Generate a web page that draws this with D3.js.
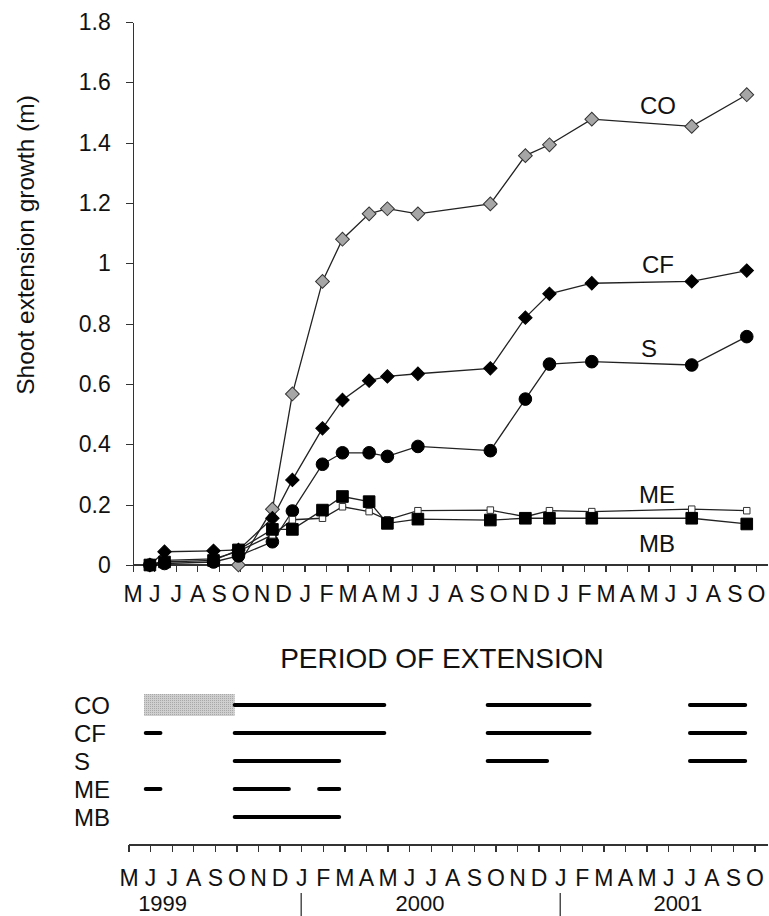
<!DOCTYPE html>
<meta charset="utf-8">
<title>Shoot extension growth</title>
<style>
  body { margin: 0; background: #fff; }
  svg { display: block; font-family: "Liberation Sans", Arial, sans-serif; }
  .axis path, .axis line { stroke: #333; stroke-width: 1.3px; shape-rendering: crispEdges; }
  .axis text { font-size: 23px; fill: #111; font-family: "Liberation Sans", Arial, sans-serif; }
  .series { fill: none; stroke: #222; stroke-width: 1.3px; }
  .lbl { font-size: 24px; fill: #111; }
  .period { stroke: #000; stroke-width: 4px; stroke-linecap: round; }
</style>
<svg width="769" height="916"></svg>
<script src="https://d3js.org/d3.v7.min.js"></script>
<script>
  // months from May 1999 (0) to Oct 2001 (29)
  var monthLabels = ["M","J","J","A","S","O","N","D","J","F","M","A","M","J","J","A","S","O","N","D","J","F","M","A","M","J","J","A","S","O"];
  var yTicks = [0, 0.2, 0.4, 0.6, 0.8, 1, 1.2, 1.4, 1.6, 1.8];

  // sampling dates, in months since 1 May 1999
  var sampleMonths = [0.8, 1.48, 3.76, 4.92, 6.5, 7.43, 8.83, 9.76, 11.0, 11.85, 13.27, 16.64, 18.27, 19.39, 21.36, 26.01, 28.57];

  var CO = [null, null, null, 0, 0.185, 0.567, 0.94, 1.08, 1.164, 1.181, 1.164, 1.197, 1.357, 1.393, 1.478, 1.454, 1.559];
  var CF = [0, 0.044, 0.047, 0.05, 0.155, 0.282, 0.453, 0.547, 0.611, 0.625, 0.634, 0.652, 0.82, 0.899, 0.934, 0.94, 0.976];
  var S  = [0, 0.005, 0.01, 0.03, 0.077, 0.179, 0.334, 0.372, 0.372, 0.36, 0.393, 0.379, 0.55, 0.666, 0.674, 0.663, 0.757];
  var ME = [0, 0.015, 0.02, 0.045, 0.10, 0.15, 0.155, 0.193, 0.177, 0.15, 0.18, 0.182, 0.16, 0.18, 0.177, 0.185, 0.18];
  var MB = [0, 0.01, 0.015, 0.05, 0.118, 0.118, 0.182, 0.227, 0.21, 0.138, 0.152, 0.149, 0.155, 0.155, 0.155, 0.155, 0.136];

  // periods of extension [start, end] in months since 1 May 1999
  var rows = ["CO", "CF", "S", "ME", "MB"];
  var periods = {
    CO: [[4.92, 11.85], [16.64, 21.36], [26.01, 28.57]],
    CF: [[0.8, 1.48], [4.92, 11.85], [16.64, 21.36], [26.01, 28.57]],
    S:  [[4.92, 9.76], [16.64, 19.39], [26.01, 28.57]],
    ME: [[0.8, 1.48], [4.92, 7.43], [8.83, 9.76]],
    MB: [[4.92, 9.76]]
  };
  var noData = { row: "CO", span: [0.72, 4.92] };
  var years = [{ label: "1999", at: 1.58 }, { label: "2000", at: 13.5 }, { label: "2001", at: 25.45 }];
  var yearBreaks = [8, 20];

  var svg = d3.select("svg");

  // stippled grey for the CO no-data block
  var pat = svg.append("defs").append("pattern")
    .attr("id", "stipple")
    .attr("width", 2).attr("height", 2)
    .attr("patternUnits", "userSpaceOnUse");
  pat.append("rect").attr("width", 2).attr("height", 2).attr("fill", "#cfcfcf");
  pat.append("rect").attr("width", 1).attr("height", 1).attr("fill", "#a8a8a8");

  // ---------- growth chart ----------
  var x = d3.scaleLinear().domain([0, 29]).range([132.7, 756]);
  var y = d3.scaleLinear().domain([0, 1.8]).range([565, 22]);

  svg.append("g")
    .attr("class", "axis")
    .attr("transform", "translate(" + x(0) + ",0)")
    .call(d3.axisLeft(y).tickValues(yTicks).tickSize(7).tickSizeOuter(0).tickPadding(15)
      .tickFormat(d3.format("~g")));

  var xAxis = svg.append("g")
    .attr("class", "axis")
    .attr("transform", "translate(0," + y(0) + ")")
    .call(d3.axisBottom(x).tickValues(d3.range(30)).tickSize(7).tickSizeOuter(0).tickPadding(14)
      .tickFormat(function (d) { return monthLabels[d]; }));
  xAxis.select(".domain").attr("d", "M" + x(0) + ",0H768");

  svg.append("text")
    .attr("class", "lbl")
    .attr("transform", "translate(34,245) rotate(-90)")
    .attr("text-anchor", "middle")
    .style("font-size", "24.5px")
    .text("Shoot extension growth (m)");

  var series = [
    { name: "CO", values: CO, shape: "diamond", fill: "#a6a6a6", size: 95, stroke: "#333", lx: 658, ly: 1.495 },
    { name: "CF", values: CF, shape: "diamond", fill: "#000", size: 90, stroke: "#000", lx: 658, ly: 0.968 },
    { name: "S",  values: S,  shape: "circle",  fill: "#000", size: 125, stroke: "#000", lx: 649, ly: 0.69 },
    { name: "ME", values: ME, shape: "square",  fill: "#fff", size: 42, stroke: "#333", lx: 657, ly: 0.206 },
    { name: "MB", values: MB, shape: "square",  fill: "#000", size: 135, stroke: "#000", lx: 657, ly: 0.043 }
  ];

  var line = d3.line()
    .defined(function (d) { return d[1] != null; })
    .x(function (d) { return x(d[0]); })
    .y(function (d) { return y(d[1]); });

  series.forEach(function (s) {
    s.pts = sampleMonths.map(function (m, i) { return [m, s.values[i]]; });
    svg.append("path").attr("class", "series").attr("d", line(s.pts));
  });

  series.forEach(function (s) {
    var sym = d3.symbol()
      .type(s.shape === "circle" ? d3.symbolCircle : d3.symbolSquare)
      .size(s.size);
    svg.append("g").selectAll("path")
      .data(s.pts.filter(function (d) { return d[1] != null; }))
      .join("path")
      .attr("d", sym)
      .attr("transform", function (d) {
        return "translate(" + x(d[0]) + "," + y(d[1]) + ")" + (s.shape === "diamond" ? " rotate(45)" : "");
      })
      .attr("fill", s.fill)
      .attr("stroke", s.stroke)
      .attr("stroke-width", 1);
    svg.append("text")
      .attr("class", "lbl")
      .attr("x", s.lx)
      .attr("y", y(s.ly))
      .attr("text-anchor", "middle")
      .text(s.name);
  });

  // ---------- period of extension ----------
  var x2 = d3.scaleLinear().domain([0, 29]).range([128.5, 754.5]);
  var r = d3.scalePoint().domain(rows).range([705, 817]);

  svg.append("text")
    .attr("x", 442)
    .attr("y", 668)
    .attr("text-anchor", "middle")
    .style("font-size", "28px")
    .style("fill", "#111")
    .text("PERIOD OF EXTENSION");

  svg.append("g").selectAll("text")
    .data(rows)
    .join("text")
    .attr("class", "lbl")
    .attr("x", 74)
    .attr("y", function (d) { return r(d) + 8.5; })
    .text(function (d) { return d; });

  svg.append("rect")
    .attr("x", x2(noData.span[0]))
    .attr("y", r(noData.row) - 11)
    .attr("width", x2(noData.span[1]) - x2(noData.span[0]))
    .attr("height", 22)
    .attr("fill", "url(#stipple)");

  rows.forEach(function (k) {
    svg.append("g").selectAll("line")
      .data(periods[k])
      .join("line")
      .attr("class", "period")
      .attr("x1", function (d) { return x2(d[0]); })
      .attr("x2", function (d) { return x2(d[1]); })
      .attr("y1", r(k))
      .attr("y2", r(k));
  });

  var xAxis2 = svg.append("g")
    .attr("class", "axis")
    .attr("transform", "translate(0,845)")
    .call(d3.axisBottom(x2).tickValues(d3.range(30)).tickSize(7).tickSizeOuter(0).tickPadding(18)
      .tickFormat(function (d) { return monthLabels[d]; }));
  xAxis2.select(".domain").attr("d", "M" + x2(0) + ",0H768");

  svg.append("g").selectAll("text")
    .data(years)
    .join("text")
    .attr("x", function (d) { return x2(d.at); })
    .attr("y", 911)
    .attr("text-anchor", "middle")
    .style("font-size", "22px")
    .style("fill", "#111")
    .text(function (d) { return d.label; });

  svg.append("g").selectAll("line")
    .data(yearBreaks)
    .join("line")
    .attr("x1", function (d) { return x2(d); })
    .attr("x2", function (d) { return x2(d); })
    .attr("y1", 893)
    .attr("y2", 916)
    .attr("stroke", "#333")
    .attr("stroke-width", 1.3);
</script>
